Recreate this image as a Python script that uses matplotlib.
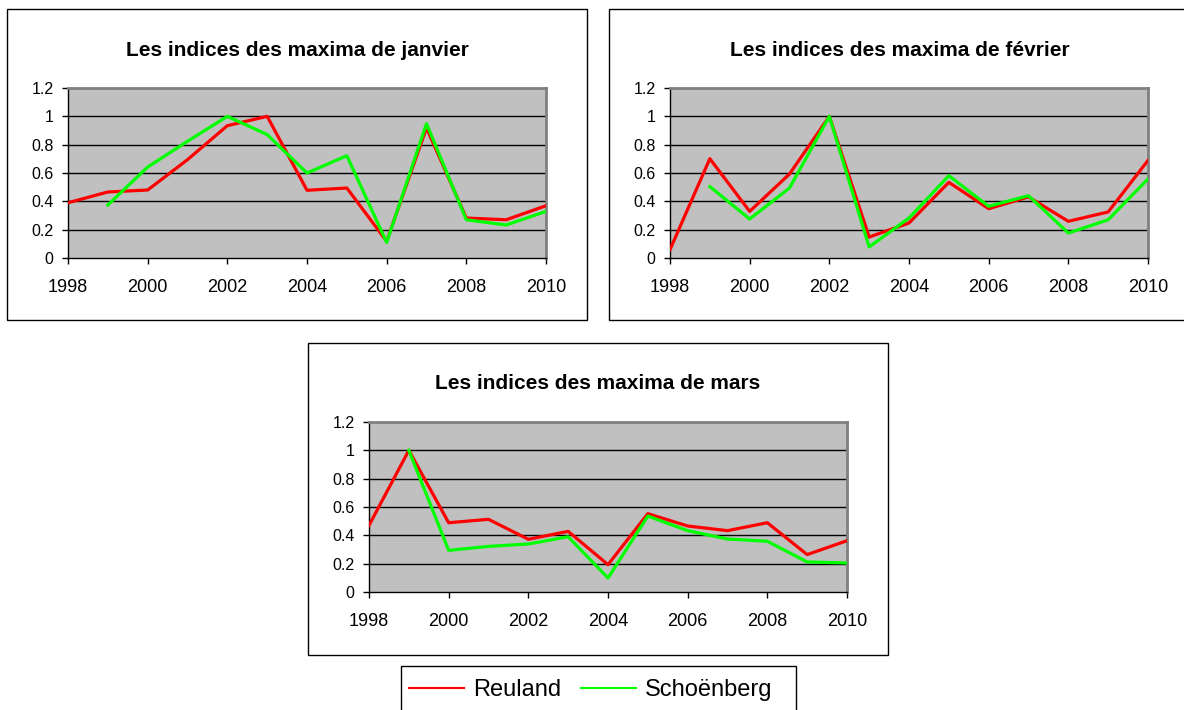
import numpy as np
import matplotlib
matplotlib.use("Agg")
import matplotlib.pyplot as plt
from matplotlib.patches import Rectangle
from matplotlib.lines import Line2D

plt.rcParams['font.family'] = ['Liberation Sans', 'DejaVu Sans']

years = [1998, 1999, 2000, 2001, 2002, 2003, 2004, 2005, 2006, 2007, 2008, 2009, 2010]
nan = np.nan

titles = ["Les indices des maxima de janvier",
          "Les indices des maxima de février",
          "Les indices des maxima de mars"]

reuland_jan = [0.39, 0.466, 0.48, 0.694, 0.934, 1.0, 0.478, 0.494, 0.118, 0.918, 0.282, 0.27, 0.369]
schoenberg_jan = [nan, 0.374, 0.642, 0.824, 1.0, 0.871, 0.60, 0.722, 0.11, 0.948, 0.27, 0.233, 0.329]

reuland_feb = [0.059, 0.701, 0.329, 0.593, 1.0, 0.148, 0.247, 0.534, 0.348, 0.431, 0.259, 0.325, 0.689]
schoenberg_feb = [nan, 0.504, 0.275, 0.494, 1.0, 0.078, 0.282, 0.581, 0.365, 0.44, 0.176, 0.27, 0.558]

reuland_mar = [0.47, 1.0, 0.489, 0.513, 0.372, 0.428, 0.193, 0.553, 0.466, 0.433, 0.489, 0.264, 0.362]
schoenberg_mar = [nan, 1.0, 0.294, 0.322, 0.339, 0.39, 0.099, 0.536, 0.433, 0.374, 0.358, 0.212, 0.205]

series_names = ["Reuland", "Schoënberg"]
series_colors = ["#FF0000", "#00FF00"]

x_ticks = [1998, 2000, 2002, 2004, 2006, 2008, 2010]
y_ticks = [0, 0.2, 0.4, 0.6, 0.8, 1.0, 1.2]
y_ticklabels = ["0", "0.2", "0.4", "0.6", "0.8", "1", "1.2"]

W, H = 1184, 710
fig = plt.figure(figsize=(W / 100, H / 100), dpi=100)


def fx(px):
    return px / W


def fy(py):
    return 1 - py / H


def frame(x0, y0, x1, y1):
    r = Rectangle((fx(x0), fy(y1)), fx(x1) - fx(x0), fy(y0) - fy(y1),
                  transform=fig.transFigure, fill=False, edgecolor="black",
                  linewidth=1.0, zorder=0)
    fig.patches.append(r)


def make_chart(box, plot, title, r_vals, s_vals, title_y):
    frame(*box)
    x0, y0, x1, y1 = plot
    ax = fig.add_axes([fx(x0), fy(y1), fx(x1) - fx(x0), fy(y0) - fy(y1)])
    ax.set_facecolor("#C0C0C0")
    ax.plot(years, r_vals, color=series_colors[0], lw=2.3, zorder=3)
    ax.plot(years, s_vals, color=series_colors[1], lw=2.3, zorder=4)
    ax.set_xlim(1998, 2010)
    ax.set_ylim(0, 1.2)
    ax.set_xticks(x_ticks)
    ax.set_xticklabels([str(v) for v in x_ticks])
    ax.set_yticks(y_ticks)
    ax.set_yticklabels(y_ticklabels)
    for yv in y_ticks[1:-1]:
        ax.axhline(yv, color="black", lw=1.0, zorder=1)
    ax.tick_params(axis="both", direction="out", length=4, width=1,
                   color="black")
    ax.tick_params(axis="x", pad=11, labelsize=13)
    ax.tick_params(axis="y", pad=6.5, labelsize=11.5)
    for s in ("left", "bottom"):
        ax.spines[s].set_color("black")
        ax.spines[s].set_linewidth(1.0)
    for s in ("top", "right"):
        ax.spines[s].set_color("#808080")
        ax.spines[s].set_linewidth(2.0)
    cx = (box[0] + box[2]) / 2
    fig.text(fx(cx), fy(title_y), title, ha="center", va="center",
             fontsize=15, fontweight="bold")
    return ax


make_chart((7, 9, 587, 320), (68, 88, 546, 258), titles[0],
           reuland_jan, schoenberg_jan, 51)
make_chart((609, 9, 1190, 320), (670, 88, 1148, 258), titles[1],
           reuland_feb, schoenberg_feb, 51)
make_chart((308, 343, 888, 655), (369, 422, 847, 592), titles[2],
           reuland_mar, schoenberg_mar, 384)

# legend
frame(401, 666, 796, 720)
handles = [Line2D([], [], color=c, lw=1.5) for c in series_colors]
fig.legend(handles, series_names, loc="center",
           bbox_to_anchor=(fx(591), fy(690)), ncol=2, frameon=False,
           fontsize=17, handlelength=2.3, handletextpad=0.4,
           columnspacing=0.85, borderpad=0, borderaxespad=0)

fig.savefig("out.png", dpi=100)
